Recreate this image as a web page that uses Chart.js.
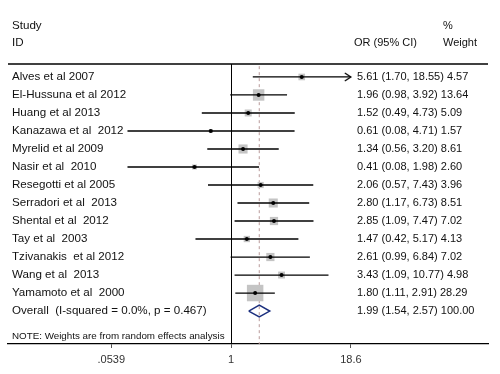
<!DOCTYPE html>
<html>
<head>
<meta charset="utf-8">
<script src="https://cdn.jsdelivr.net/npm/chart.js@4/dist/chart.umd.min.js"></script>
<style>
  body { margin: 0; background: #fff; }
</style>
</head>
<body>
<canvas id="forest" width="500" height="374"></canvas>
<script>
// study rows, top to bottom
const studies = [
  "Alves et al 2007", "El-Hussuna et al 2012", "Huang et al 2013", "Kanazawa et al  2012",
  "Myrelid et al 2009", "Nasir et al  2010", "Resegotti et al 2005", "Serradori et al  2013",
  "Shental et al  2012", "Tay et al  2003", "Tzivanakis  et al 2012", "Wang et al  2013",
  "Yamamoto et al  2000"
];
const oddsRatio = [5.61, 1.96, 1.52, 0.61, 1.34, 0.41, 2.06, 2.80, 2.85, 1.47, 2.61, 3.43, 1.80];
const ciLow = [1.70, 0.98, 0.49, 0.08, 0.56, 0.08, 0.57, 1.17, 1.09, 0.42, 0.99, 1.09, 1.11];
const ciHigh = [18.55, 3.92, 4.73, 4.71, 3.20, 1.98, 7.43, 6.73, 7.47, 5.17, 6.84, 10.77, 2.91];
const weights = [4.57, 13.64, 5.09, 1.57, 8.61, 2.60, 3.96, 8.51, 7.02, 4.13, 7.02, 4.98, 28.29];

const overallLabel = "Overall  (I-squared = 0.0%, p = 0.467)";
const overall = { or: 1.99, low: 1.54, high: 2.57, weight: 100.00 };

const tickValues = [0.0539, 1, 18.6];
const tickLabels = [".0539", "1", "18.6"];
const arrowFrom = 18.5; // CIs reaching the edge get an arrow

const FONT = "'Liberation Sans', Arial, sans-serif";
const nRows = studies.length + 1;
const overallRow = studies.length;

// open arrow head, tip in the centre of the image
const arrowImg = document.createElement("canvas");
arrowImg.width = 16; arrowImg.height = 10;
(function () {
  const c = arrowImg.getContext("2d");
  c.strokeStyle = "#000";
  c.lineWidth = 1.3;
  c.beginPath();
  c.moveTo(2, 1); c.lineTo(8, 5); c.lineTo(2, 9);
  c.stroke();
})();

const ciLines = studies.map((s, i) => ({
  type: "line",
  data: [{ x: ciLow[i], y: i }, { x: ciHigh[i], y: i }],
  borderColor: "#000",
  borderWidth: 1.3,
  pointRadius: 0,
  order: 2
}));

const dh = 0.33; // diamond half height in rows

const textPlugin = {
  id: "forestText",
  afterDraw(chart) {
    const ctx = chart.ctx;
    const area = chart.chartArea;
    const y = chart.scales.y;
    ctx.save();
    // header rule
    ctx.strokeStyle = "#000";
    ctx.lineWidth = 1.3;
    ctx.beginPath();
    ctx.moveTo(area.left, area.top);
    ctx.lineTo(area.right, area.top);
    ctx.stroke();

    ctx.fillStyle = "#111";
    ctx.textBaseline = "middle";
    const lx = area.left + 4;
    const rx = area.left + 349;
    ctx.font = "11.6px " + FONT;
    ctx.fillText("Study", lx, area.top - 38);
    ctx.fillText("ID", lx, area.top - 21);
    ctx.font = "11px " + FONT;
    ctx.fillText("OR (95% CI)", rx - 3, area.top - 21);
    ctx.fillText("%", rx + 86, area.top - 38);
    ctx.fillText("Weight", rx + 86, area.top - 21);

    const rowText = (label, o, lo, hi, w, i) => {
      const py = y.getPixelForValue(i);
      ctx.font = "11.6px " + FONT;
      ctx.fillText(label, lx, py);
      ctx.font = "11px " + FONT;
      const s = o.toFixed(2) + " (" + lo.toFixed(2) + ", " + hi.toFixed(2) + ")";
      ctx.fillText(s, rx, py);
      ctx.fillText(w.toFixed(2), rx + ctx.measureText(s + " ").width, py);
    };
    studies.forEach((s, i) => rowText(s, oddsRatio[i], ciLow[i], ciHigh[i], weights[i], i));
    rowText(overallLabel, overall.or, overall.low, overall.high, overall.weight, overallRow);

    ctx.font = "9.8px " + FONT;
    ctx.fillText("NOTE: Weights are from random effects analysis", lx, area.bottom - 8);
    ctx.restore();
  }
};

new Chart(document.getElementById("forest"), {
  type: "scatter",
  data: {
    datasets: [
      {
        // weight boxes
        data: studies.map((s, i) => ({ x: oddsRatio[i], y: i })),
        pointStyle: "rect",
        pointRadius: weights.map(w => 2.19 * Math.sqrt(w)),
        backgroundColor: "#c4c4c4",
        borderWidth: 0,
        order: 3
      },
      ...ciLines,
      {
        // point estimates
        data: studies.map((s, i) => ({ x: oddsRatio[i], y: i })),
        pointStyle: "circle",
        pointRadius: 2,
        backgroundColor: "#000",
        borderWidth: 0,
        order: 1
      },
      {
        data: studies.map((s, i) => ({ x: ciHigh[i], y: i })).filter(p => p.x >= arrowFrom),
        pointStyle: arrowImg,
        pointRadius: 5,
        order: 1
      },
      {
        // overall diamond
        type: "line",
        data: [
          { x: overall.low, y: overallRow },
          { x: overall.or, y: overallRow - dh },
          { x: overall.high, y: overallRow },
          { x: overall.or, y: overallRow + dh },
          { x: overall.low, y: overallRow }
        ],
        borderColor: "#1b2f7e",
        borderWidth: 1.5,
        pointRadius: 0,
        tension: 0,
        order: 1
      },
      {
        // overall effect line
        type: "line",
        data: [{ x: overall.or, y: -0.6 }, { x: overall.or, y: nRows + 1 }],
        borderColor: "#b89a9a",
        borderWidth: 1,
        borderDash: [3, 3],
        pointRadius: 0,
        order: 4
      }
    ]
  },
  options: {
    responsive: false,
    animation: false,
    layout: { autoPadding: false, padding: { left: 8, right: 12, top: 64, bottom: 0 } },
    plugins: { legend: { display: false }, tooltip: { enabled: false } },
    scales: {
      x: {
        type: "logarithmic",
        min: 0.00434,
        max: 527,
        afterBuildTicks: axis => { axis.ticks = tickValues.map(v => ({ value: v })); },
        afterFit: axis => { axis.height = 30; },
        ticks: {
          autoSkip: false,
          maxRotation: 0,
          padding: 5,
          color: "#333",
          font: { family: FONT, size: 11 },
          callback: (v, i) => tickLabels[i]
        },
        grid: {
          color: c => (c.tick && c.tick.value === 1 ? "#000" : "rgba(0,0,0,0)"),
          lineWidth: 1,
          tickColor: "#555",
          tickLength: 4
        },
        border: { display: true, color: "#000", width: 1.3 }
      },
      y: {
        type: "linear",
        reverse: true,
        min: -0.72,
        max: 14.83,
        display: false
      }
    }
  },
  plugins: [textPlugin]
});
</script>
</body>
</html>
